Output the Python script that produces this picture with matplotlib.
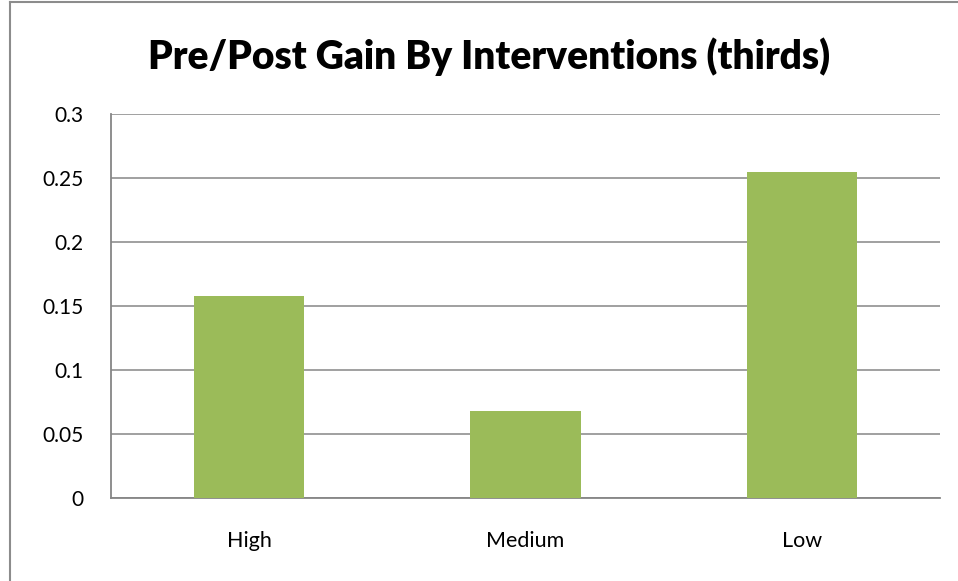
import matplotlib.pyplot as plt
from matplotlib.lines import Line2D

categories = ["High", "Medium", "Low"]
gains = [0.158, 0.068, 0.255]
y_ticks = [0, 0.05, 0.1, 0.15, 0.2, 0.25, 0.3]
y_tick_labels = ["0", "0.05", "0.1", "0.15", "0.2", "0.25", "0.3"]

bar_color = "#9BBB59"
grid_color = "#868686"

plt.rcParams["font.family"] = ["Lato", "DejaVu Sans"]

fig = plt.figure(figsize=(9.58, 5.81), dpi=100)
ax = fig.add_axes([111 / 958, 1 - 497.5 / 581, (940 - 111) / 958, (497.5 - 114) / 581])

ax.bar(range(len(categories)), gains, width=0.4, color=bar_color, zorder=3)

ax.set_xlim(-0.5, len(categories) - 0.5)
ax.set_ylim(0, 0.3)
ax.set_yticks(y_ticks)
ax.set_yticklabels(y_tick_labels)
ax.set_xticks(range(len(categories)))
ax.set_xticklabels(categories)

ax.yaxis.grid(True, color=grid_color, linewidth=1.1, zorder=0)
ax.set_axisbelow(True)
ax.tick_params(axis="both", length=0, labelsize=15, colors="black")
ax.tick_params(axis="x", labelsize=15.5)
ax.tick_params(axis="y", pad=20)
ax.tick_params(axis="x", pad=24)

for side in ["top", "right"]:
    ax.spines[side].set_visible(False)
for side in ["left", "bottom"]:
    ax.spines[side].set_color(grid_color)
    ax.spines[side].set_linewidth(1.3)

fig.text(489 / 958, 1 - 69 / 581, "Pre/Post Gain By Interventions (thirds)",
         ha="center", va="baseline", fontsize=28, fontweight="heavy")

# outer chart border (only left and top edges fall inside the picture)
fig.add_artist(Line2D([9.5 / 958, 9.5 / 958], [0, 1 - 1.5 / 581], color="#8c8c8c", linewidth=1.5))
fig.add_artist(Line2D([9.5 / 958, 1], [1 - 1.5 / 581, 1 - 1.5 / 581], color="#8c8c8c", linewidth=1.5))

fig.savefig("out.png", dpi=100)
